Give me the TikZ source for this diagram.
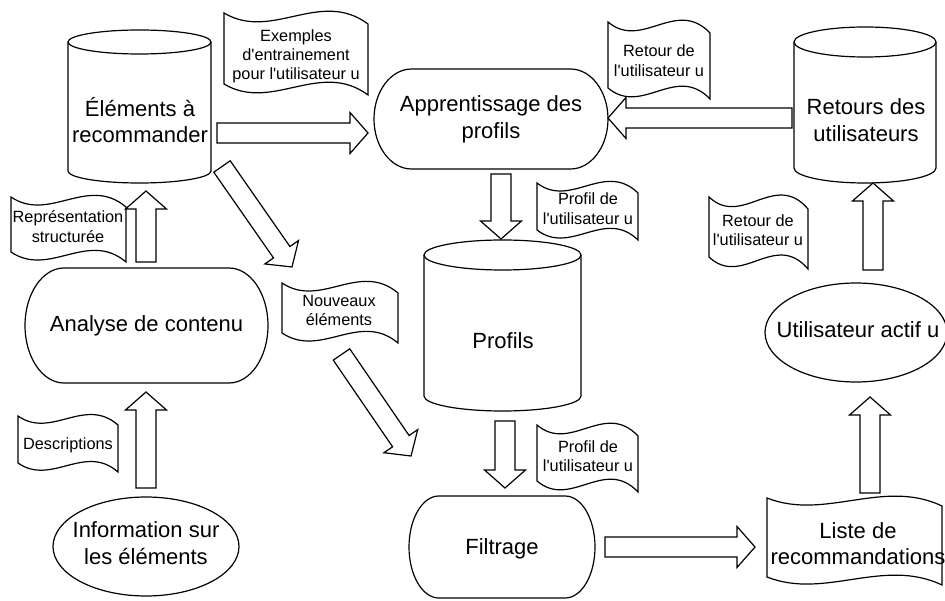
\documentclass[tikz,border=0pt]{standalone}
\usepackage{fontspec}
\setmainfont{Liberation Sans}[Ligatures=TeXOff]
\usetikzlibrary{calc}
\tikzset{
  outline/.style={draw=black, line width=1.2pt, line join=miter},
  lbl/.style={font=\fontsize{22}{26.5}\selectfont, align=center, inner sep=0pt, text height=0.72em, text depth=0pt},
  slbl/.style={font=\fontsize{16.3}{19.2}\selectfont, align=center, inner sep=0pt, text height=0.72em, text depth=0pt},
}
% cylinder: name, x1, x2, ytop, ybottom, ry, tx, ty, text
\newcommand\cyl[9]{%
  \pgfmathsetmacro\rxx{(#3-#2)/2}%
  \draw[outline] (#2,#4+#6) -- (#2,#5-#6)
     arc[start angle=180, end angle=360, x radius=\rxx pt, y radius=#6pt]
     -- (#3,#4+#6)
     arc[start angle=0, end angle=180, x radius=\rxx pt, y radius=#6pt] -- cycle;
  \draw[outline] (#2,#4+#6) arc[start angle=180, end angle=360, x radius=\rxx pt, y radius=#6pt];
  \node[lbl] (#1) at (#7,#8) {#9};}
% terminator: name, cx, cy, w, h, ty, text
\newcommand\termin[7]{%
  \pgfmathsetmacro\xa{#2-#4/2}\pgfmathsetmacro\xb{#2+#4/2}%
  \pgfmathsetmacro\ya{#3-#5/2}\pgfmathsetmacro\yb{#3+#5/2}%
  \pgfmathsetmacro\rxx{0.1606*#4}\pgfmathsetmacro\ryy{#5/2}%
  \draw[outline] (\xa+\rxx,\ya) -- (\xb-\rxx,\ya)
     arc[start angle=90, end angle=-90, x radius=\rxx pt, y radius=\ryy pt]
     -- (\xa+\rxx,\yb)
     arc[start angle=270, end angle=90, x radius=\rxx pt, y radius=\ryy pt] -- cycle;
  \node[lbl] (#1) at (#2,#6) {#7};}
% tape: name, x1, x2, ytop, ybottom, e, tx, ty, text
\newcommand\tape[9]{%
  \pgfmathsetmacro\wa{(#3-#2)/3}%
  \draw[outline] (#2,#4) .. controls (#2+\wa,#4+2.6*#6) and (#3-\wa,#4-2.24*#6) .. (#3,#4+#6)
     -- (#3,#5+#6) .. controls (#3-\wa,#5-2.24*#6) and (#2+\wa,#5+2.6*#6) .. (#2,#5) -- cycle;
  \node[slbl] (#1) at (#7,#8) {#9};}
% block arrow from named coordinate #1 to named coordinate #2
\newcommand\barrow[2]{%
  \coordinate (#1-h) at ($(#2)!18pt!(#1)$);
  \draw[outline] ($(#1)!10pt!90:(#2)$) -- ($(#1-h)!10pt!90:(#2)$) -- ($(#1-h)!20.5pt!90:(#2)$)
     -- (#2) -- ($(#1-h)!20.5pt!-90:(#2)$) -- ($(#1-h)!10pt!-90:(#2)$) -- ($(#1)!10pt!-90:(#2)$) -- cycle;}
\begin{document}
\begin{tikzpicture}[x=1pt, y=-1pt]
\fill[white] (0,0) rectangle (945,601);
\useasboundingbox (0,0) rectangle (945,601);

% databases
\cyl{elem}{68}{211}{30}{183}{12}{140}{139}{Éléments à\\recommander}
\cyl{retours}{794}{936}{27}{183}{15}{866}{137.5}{Retours des\\utilisateurs}
\cyl{profils}{424}{581}{240}{411}{15}{503}{345}{Profils}

% terminators
\termin{appr}{491}{119}{234}{100}{134.5}{Apprentissage des\\profils}
\termin{analyse}{146.5}{325.5}{243}{115}{328}{Analyse de contenu}
\termin{filtrage}{502}{547}{186}{102}{551}{Filtrage}

% ellipses
\draw[outline] (146,546.5) ellipse [x radius=93pt, y radius=49.5pt];
\node[lbl] (info) at (146,560.5) {Information sur\\les éléments};
\draw[outline] (856,332.5) ellipse [x radius=91pt, y radius=49.5pt];
\node[lbl] (user) at (858,334) {Utilisateur actif u};

% tapes
\tape{exemples}{224}{368}{13}{84}{11}{296}{76}{Exemples\\d'entrainement\\pour l'utilisateur u}
\tape{retour1}{608}{710}{22}{88}{11}{659}{72.5}{Retour de\\l'utilisateur u}
\tape{profil1}{537}{638}{183}{230}{10}{588}{220.5}{Profil de\\l'utilisateur u}
\tape{retour2}{709}{808}{197}{257}{12}{758}{242}{Retour de\\l'utilisateur u}
\tape{repr}{11}{126}{197}{252}{10}{68}{238.5}{Représentation\\structurée}
\tape{nouveaux}{282}{398}{283}{333}{10}{339}{322}{Nouveaux\\éléments}
\tape{descr}{18}{118}{416}{463}{9}{68}{446}{Descriptions}
\tape{profil2}{537}{638}{425}{481}{11}{588}{468}{Profil de\\l'utilisateur u}
\draw[outline] (767,498) .. controls (825,521) and (883,478) .. (942,506)
   -- (942,585) .. controls (883,557) and (825,600) .. (767,577) -- cycle;
\node[lbl] (liste) at (858,561) {Liste de\\recommandations};

% arrow end points
\coordinate (a1s) at (217,133);   \coordinate (a1e) at (368,133);
\coordinate (a2s) at (792,118);   \coordinate (a2e) at (608,118);
\coordinate (a3s) at (501,174);   \coordinate (a3e) at (501,239);
\coordinate (a4s) at (505,421);   \coordinate (a4e) at (505,488);
\coordinate (a5s) at (605,547);   \coordinate (a5e) at (755,547);
\coordinate (a6s) at (870,493);   \coordinate (a6e) at (870,397);
\coordinate (a7s) at (873,270);   \coordinate (a7e) at (873,183);
\coordinate (a8s) at (146,262);   \coordinate (a8e) at (146,191);
\coordinate (a9s) at (146,488);   \coordinate (a9e) at (146,392);
\coordinate (a10s) at (222,166.5); \coordinate (a10e) at (292,267);
\coordinate (a11s) at (341.5,354.5); \coordinate (a11e) at (411,456);

\barrow{a1s}{a1e}
\barrow{a2s}{a2e}
\barrow{a3s}{a3e}
\barrow{a4s}{a4e}
\barrow{a5s}{a5e}
\barrow{a6s}{a6e}
\barrow{a7s}{a7e}
\barrow{a8s}{a8e}
\barrow{a9s}{a9e}
\barrow{a10s}{a10e}
\barrow{a11s}{a11e}
\end{tikzpicture}
\end{document}
